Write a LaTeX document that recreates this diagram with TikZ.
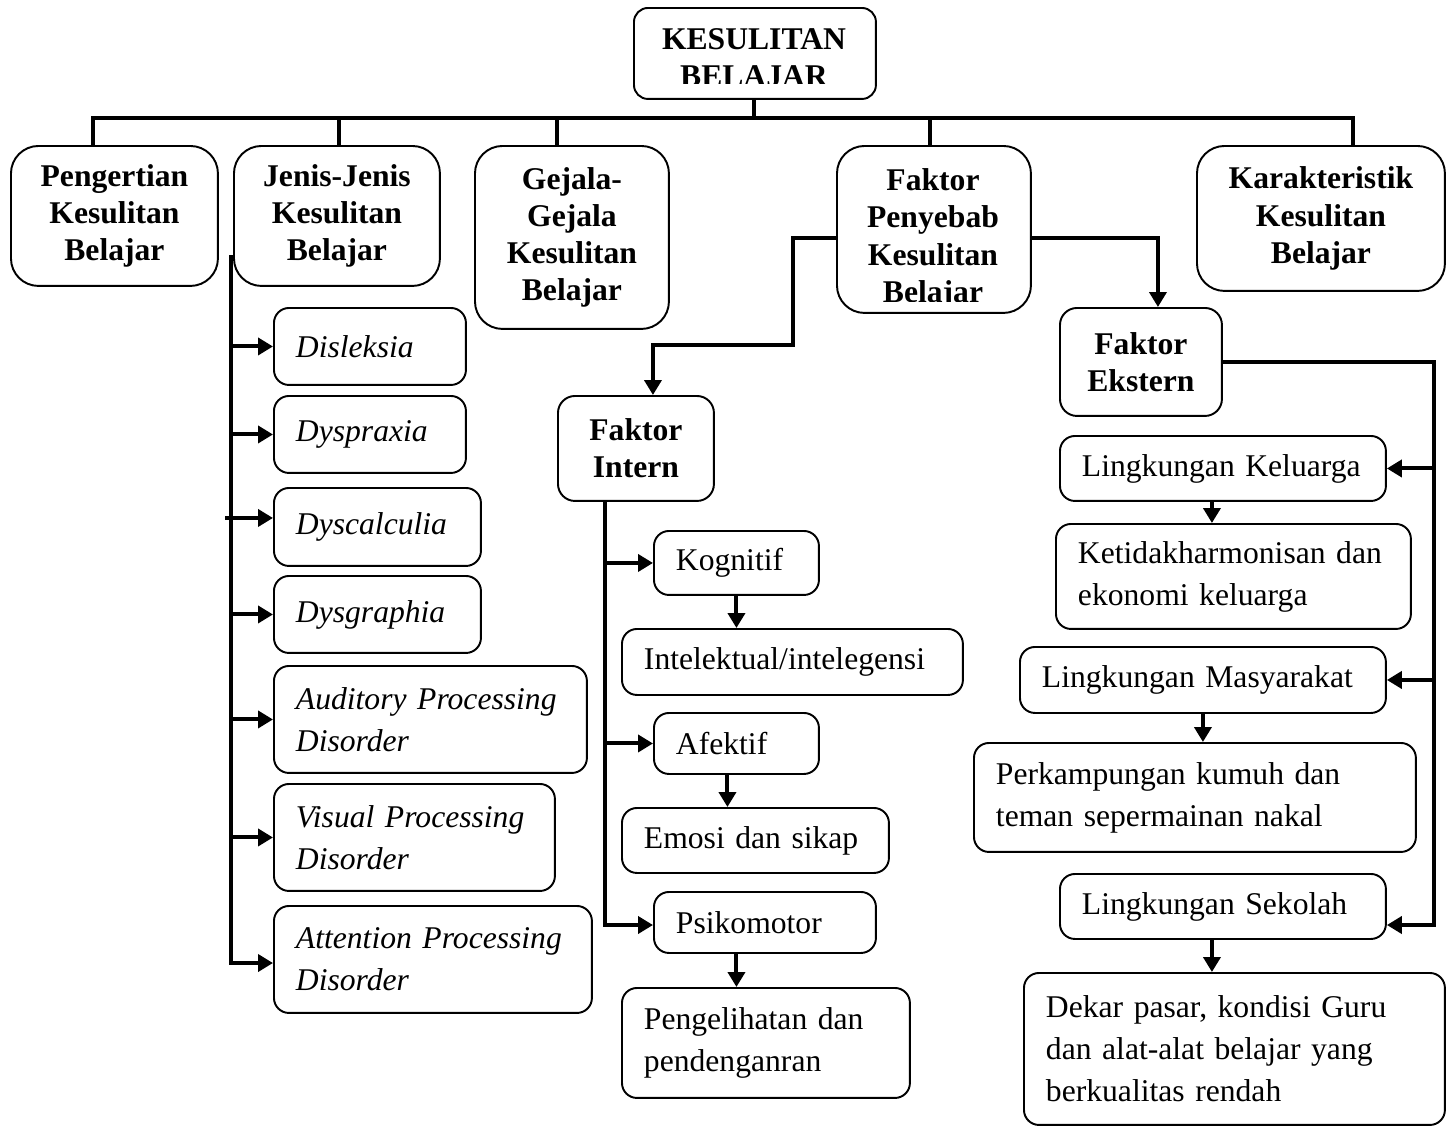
\documentclass[tikz,border=0pt]{standalone}
\usepackage{fontspec}
\setmainfont{Liberation Serif}
\usetikzlibrary{arrows.meta}
\tikzstyle{plainbox} = [rectangle, draw=black, line width=1.1pt, anchor=north west]
\tikzstyle{mainbox} = [plainbox, rounded corners=0.28cm, minimum width=4.84cm, minimum height=1.82cm]
\tikzstyle{heading} = [plainbox, rounded corners=0.55cm, align=center, font=\fontsize{18}{21.2}\selectfont\bfseries]
\tikzstyle{factor} = [plainbox, rounded corners=0.34cm, align=center, font=\fontsize{18}{21.2}\selectfont\bfseries]
\tikzstyle{subject} = [plainbox, rounded corners=0.3cm, align=left, inner xsep=0.44cm, font=\fontsize{18}{23.9}\selectfont\itshape]
\tikzstyle{entry} = [plainbox, rounded corners=0.3cm, align=left, inner xsep=0.44cm, font=\fontsize{18}{23.9}\selectfont]
\tikzstyle{boldtext} = [align=center, font=\fontsize{18}{21.2}\selectfont\bfseries]
\tikzstyle{link} = [line width=2.3pt, line cap=rect]
\tikzstyle{arrow} = [line width=2.3pt, -{Triangle[length=0.3cm, width=0.34cm]}]
\begin{document}
\begin{tikzpicture}[x=0.02cm, y=-0.02cm]
	\useasboundingbox (0,0) rectangle (1452,1126);

	\node (top) [mainbox] at (633,7) {};
	\begin{scope}
		\clip (633,7) rectangle (875,83);
		\node (toptext) [boldtext] at (754,58) {KESULITAN\\BELAJAR};
	\end{scope}

	\node (pengertian) [heading, minimum width=4.14cm, minimum height=2.8cm] at (10,145) {Pengertian\\Kesulitan\\Belajar};
	\node (jenis) [heading, minimum width=4.12cm, minimum height=2.8cm] at (233,145) {Jenis-Jenis\\Kesulitan\\Belajar};
	\node (gejala) [heading, minimum width=3.88cm, minimum height=3.66cm] at (474,145) {Gejala-\\Gejala\\Kesulitan\\Belajar};
	\node (penyebab) [heading, minimum width=3.88cm, minimum height=3.34cm] at (836,145) {};
	\begin{scope}
		\clip (836,145) rectangle (1030,301);
		\node (penyebabtext) [boldtext] at (933,239) {Faktor\\Penyebab\\Kesulitan\\Belajar};
	\end{scope}
	\node (karakteristik) [heading, minimum width=4.96cm, minimum height=2.9cm] at (1196,145) {Karakteristik\\Kesulitan\\Belajar};

	\node (dis) [subject, text width=2.96cm, minimum height=1.54cm] at (273,307) {Disleksia};
	\node (dyspraxia) [subject, text width=2.96cm, minimum height=1.54cm] at (273,395) {Dyspraxia};
	\node (dyscalculia) [subject, text width=3.26cm, minimum height=1.56cm] at (273,487) {Dyscalculia};
	\node (dysgraphia) [subject, text width=3.26cm, minimum height=1.54cm] at (273,575) {Dysgraphia};
	\node (auditory) [subject, text width=5.38cm, minimum height=2.14cm] at (273,665) {Auditory Processing\\Disorder};
	\node (visual) [subject, text width=4.74cm, minimum height=2.14cm] at (273,783) {Visual Processing\\Disorder};
	\node (attention) [subject, text width=5.48cm, minimum height=2.14cm] at (273,905) {Attention Processing\\Disorder};

	\node (intern) [factor, minimum width=3.12cm, minimum height=2.1cm] at (557,395) {Faktor\\Intern};
	\node (kognitif) [entry, text width=2.42cm, minimum height=1.28cm] at (653,530) {Kognitif};
	\node (intelektual) [entry, text width=5.94cm, minimum height=1.32cm] at (621,628) {Intelektual/intelegensi};
	\node (afektif) [entry, text width=2.42cm, minimum height=1.22cm] at (653,712) {Afektif};
	\node (emosi) [entry, text width=4.46cm, minimum height=1.3cm] at (621,807) {Emosi dan sikap};
	\node (psikomotor) [entry, text width=3.56cm, minimum height=1.22cm] at (653,891) {Psikomotor};
	\node (pengelihatan) [entry, text width=4.88cm, minimum height=2.2cm] at (621,987) {Pengelihatan dan\\pendenganran};

	\node (ekstern) [factor, minimum width=3.24cm, minimum height=2.16cm] at (1059,307) {Faktor\\Ekstern};
	\node (keluarga) [entry, text width=5.64cm, minimum height=1.3cm] at (1059,435) {Lingkungan Keluarga};
	\node (ketidak) [entry, text width=6.22cm, minimum height=2.1cm] at (1055,523) {Ketidakharmonisan dan\\ekonomi keluarga};
	\node (masyarakat) [entry, text width=6.44cm, minimum height=1.32cm] at (1019,646) {Lingkungan Masyarakat};
	\node (perkampungan) [entry, text width=7.96cm, minimum height=2.18cm] at (973,742) {Perkampungan kumuh dan\\teman sepermainan nakal};
	\node (sekolah) [entry, text width=5.64cm, minimum height=1.3cm] at (1059,873) {Lingkungan Sekolah};
	\node (dekar) [entry, text width=7.54cm, minimum height=3.04cm] at (1023,972) {Dekar pasar, kondisi Guru\\dan alat-alat belajar yang\\berkualitas rendah};

	\coordinate (bus) at (754,118);
	\coordinate (d1) at (93,118);
	\coordinate (d2) at (339,118);
	\coordinate (d3) at (557,118);
	\coordinate (d4) at (930,118);
	\coordinate (d5) at (1353,118);
	\draw [link] (bus |- top.south) -- (bus);
	\draw [link] (d1 |- pengertian.north) -- (d1) -- (d5) -- (d5 |- karakteristik.north);
	\draw [link] (d2) -- (d2 |- jenis.north);
	\draw [link] (d3) -- (d3 |- gejala.north);
	\draw [link] (d4) -- (d4 |- penyebab.north);

	\coordinate (jtop) at (231,257);
	\coordinate (jbus) at (231,963);
	\coordinate (dc) at ([yshift=0.18cm]dyscalculia.west);
	\draw [link] (jtop) -- (jbus);
	\draw [arrow] (jbus |- dis.west) -- (dis.west);
	\draw [arrow] (jbus |- dyspraxia.west) -- (dyspraxia.west);
	\draw [arrow] ([xshift=-0.12cm]jbus |- dc) -- (dc);
	\draw [arrow] (jbus |- dysgraphia.west) -- (dysgraphia.west);
	\draw [arrow] (jbus |- auditory.west) -- (auditory.west);
	\draw [arrow] (jbus |- visual.west) -- (visual.west);
	\draw [arrow] (jbus) -- (jbus -| attention.west);

	\coordinate (bend) at (793,345);
	\draw [arrow] ([yshift=-0.17cm]penyebab.west) -| (bend) -| ([xshift=0.34cm]intern.north);
	\draw [arrow] ([yshift=-0.17cm]penyebab.east) -| ([xshift=0.34cm]ekstern.north);

	\coordinate (ibus) at (605,925);
	\draw [link] (ibus |- intern.south) -- (ibus);
	\draw [arrow] (ibus |- kognitif.west) -- (kognitif.west);
	\draw [arrow] (ibus |- afektif.west) -- (afektif.west);
	\draw [arrow] (ibus) -- (ibus -| psikomotor.west);
	\draw [arrow] (kognitif.south) -- (kognitif.south |- intelektual.north);
	\draw [arrow] ([xshift=-0.18cm]afektif.south) -- ([xshift=-0.18cm]afektif.south |- emosi.north);
	\draw [arrow] (kognitif.south |- psikomotor.south) -- (kognitif.south |- pengelihatan.north);

	\coordinate (ebus) at (1434,925);
	\draw [link] (ekstern.east) -| (ebus);
	\draw [arrow] (ebus |- keluarga.east) -- (keluarga.east);
	\draw [arrow] (ebus |- masyarakat.east) -- (masyarakat.east);
	\draw [arrow] (ebus) -- (ebus -| sekolah.east);
	\draw [arrow] ([xshift=-0.22cm]keluarga.south) -- ([xshift=-0.22cm]keluarga.south |- ketidak.north);
	\draw [arrow] (masyarakat.south) -- (masyarakat.south |- perkampungan.north);
	\draw [arrow] ([xshift=-0.22cm]sekolah.south) -- ([xshift=-0.22cm]sekolah.south |- dekar.north);
\end{tikzpicture}
\end{document}
